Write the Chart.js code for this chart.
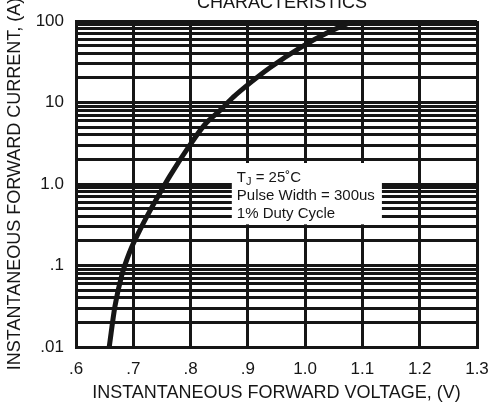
<!DOCTYPE html>
<html>
<head>
<meta charset="utf-8">
<script src="https://cdn.jsdelivr.net/npm/chart.js@4.4.0/dist/chart.umd.min.js"></script>
<style>
  html, body { margin: 0; padding: 0; background: #fff; }
  #wrap { width: 490px; height: 406px; }
</style>
</head>
<body>
<div id="wrap"><canvas id="vfChart"></canvas></div>
<script>
var voltage = [0.658, 0.668, 0.680, 0.694, 0.709, 0.729, 0.749, 0.764, 0.799, 0.825, 0.851, 0.875, 0.904, 0.939, 0.991, 1.043, 1.085];
var current = [0.01, 0.0316, 0.076, 0.148, 0.251, 0.468, 0.832, 1.26, 3.02, 5.37, 7.94, 11.7, 17.4, 26.9, 46.8, 74.1, 100];

// Ejes
var xTicks = [0.6, 0.7, 0.8, 0.9, 1.0, 1.1, 1.2, 1.3];
var xLabels = ['.6', '.7', '.8', '.9', '1.0', '1.1', '1.2', '1.3'];
var yDecades = [0.01, 0.1, 1, 10, 100];
var yLabels = ['.01', '.1', '1.0', '10', '100'];

// Texto de la nota
var noteLines = ['Pulse Width = 300us', '1% Duty Cycle'];
var chartTitle = 'CHARACTERISTICS';

var FONT = '"Liberation Sans", Arial, sans-serif';
var INK = '#161616';

// líneas de rejilla log: 1..9 en cada década
var yGrid = [];
for (var d = 0; d < yDecades.length - 1; d++) {
  for (var m = 1; m <= 9; m++) {
    yGrid.push(parseFloat((yDecades[d] * m).toPrecision(3)));
  }
}
yGrid.push(yDecades[yDecades.length - 1]);

var points = voltage.map(function (v, i) { return { x: v, y: current[i] }; });

var notePlugin = {
  id: 'notePlugin',
  beforeDatasetsDraw: function (chart) {
    var c = chart.ctx, xs = chart.scales.x, ys = chart.scales.y;
    var l = xs.getPixelForValue(0.872), r = xs.getPixelForValue(1.134);
    var t = ys.getPixelForValue(1.81), b = ys.getPixelForValue(0.32);
    c.save();
    c.fillStyle = '#fff';
    c.fillRect(l, t, r - l, b - t);
    c.fillStyle = INK;
    c.textBaseline = 'alphabetic';
    c.textAlign = 'left';
    var x0 = l + 5;
    c.font = '15px ' + FONT;
    c.fillText('T', x0, t + 19);
    var w = c.measureText('T').width;
    c.font = '11px ' + FONT;
    c.fillText('J', x0 + w, t + 22);
    var w2 = c.measureText('J').width;
    c.font = '15px ' + FONT;
    c.fillText(' = 25\u02DAC', x0 + w + w2, t + 19);
    for (var i = 0; i < noteLines.length; i++) {
      c.fillText(noteLines[i], x0, t + 37 + i * 18);
    }
    c.restore();
  },
  afterDraw: function (chart) {
    var c = chart.ctx;
    c.save();
    c.fillStyle = INK;
    c.font = '18px ' + FONT;
    c.textAlign = 'center';
    c.textBaseline = 'alphabetic';
    c.fillText(chartTitle, 282, 8);
    c.restore();
  }
};

var ctx = document.getElementById('vfChart').getContext('2d');
var chart = new Chart(ctx, {
  type: 'scatter',
  data: {
    datasets: [{
      data: points,
      showLine: true,
      borderColor: INK,
      borderWidth: 5,
      pointRadius: 0,
      fill: false,
      cubicInterpolationMode: 'monotone'
    }]
  },
  options: {
    responsive: true,
    maintainAspectRatio: false,
    animation: false,
    layout: { padding: { left: 0, right: 13, top: 21, bottom: 0 } },
    plugins: { legend: { display: false }, tooltip: { enabled: false } },
    scales: {
      x: {
        type: 'linear',
        min: 0.6,
        max: 1.3,
        afterBuildTicks: function (s) { s.ticks = xTicks.map(function (v) { return { value: v }; }); },
        afterFit: function (s) { s.height = 59; s.paddingLeft = 0; s.paddingRight = 0; },
        grid: { color: INK, lineWidth: 3, drawTicks: false },
        border: { color: INK, width: 3 },
        ticks: {
          autoSkip: false,
          maxRotation: 0,
          padding: 12,
          color: INK,
          font: { family: FONT, size: 17 },
          callback: function (v, i) { return xLabels[i]; }
        },
        title: {
          display: true,
          text: 'INSTANTANEOUS FORWARD VOLTAGE, (V)',
          color: INK,
          font: { family: FONT, size: 18 },
          padding: { top: 0, bottom: 2 }
        }
      },
      y: {
        type: 'logarithmic',
        min: 0.01,
        max: 100,
        afterBuildTicks: function (s) { s.ticks = yGrid.map(function (v) { return { value: v }; }); },
        afterFit: function (s) { s.width = 76; s.paddingTop = 0; s.paddingBottom = 0; },
        grid: { color: INK, lineWidth: 3, drawTicks: false },
        border: { color: INK, width: 3 },
        ticks: {
          autoSkip: false,
          padding: 12,
          color: INK,
          font: { family: FONT, size: 17 },
          callback: function (v) {
            var k = yDecades.indexOf(v);
            return k >= 0 ? yLabels[k] : '';
          }
        },
        title: {
          display: true,
          text: 'INSTANTANEOUS FORWARD CURRENT, (A)',
          color: INK,
          font: { family: FONT, size: 18 },
          padding: { top: 4, bottom: 0 }
        }
      }
    }
  },
  plugins: [notePlugin]
});
</script>
</body>
</html>
